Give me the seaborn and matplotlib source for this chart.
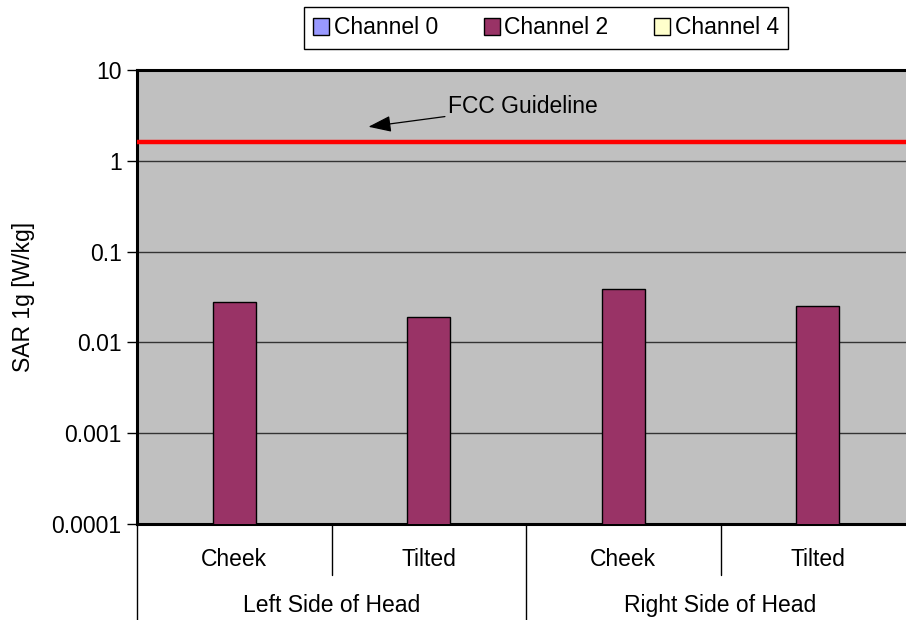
import numpy as np
import pandas as pd
import matplotlib
matplotlib.use("Agg")
import matplotlib.pyplot as plt
import matplotlib.patches as mpatches
import matplotlib.transforms as mtransforms
import seaborn as sns

# ---- data ----
positions = ["Cheek", "Tilted", "Cheek", "Tilted"]
sides = ["Left Side of Head", "Right Side of Head"]
slots = ["L-Cheek", "L-Tilted", "R-Cheek", "R-Tilted"]
channels = ["Channel 0", "Channel 2", "Channel 4"]
sar_ch0 = [np.nan, np.nan, np.nan, np.nan]
sar_ch2 = [0.028, 0.019, 0.039, 0.025]
sar_ch4 = [np.nan, np.nan, np.nan, np.nan]
fcc_limit = 1.6
yticks = [0.0001, 0.001, 0.01, 0.1, 1, 10]
ytick_labels = ["0.0001", "0.001", "0.01", "0.1", "1", "10"]
colors = {"Channel 0": "#9999FF", "Channel 2": "#993366", "Channel 4": "#FFFFCC"}

rows = []
for ch, vals in zip(channels, [sar_ch0, sar_ch2, sar_ch4]):
    for s, v in zip(slots, vals):
        rows.append({"slot": s, "channel": ch, "sar": v})
df = pd.DataFrame(rows)

sns.set_style("white")
plt.rcParams["font.family"] = ["Liberation Sans", "DejaVu Sans"]
for k in ["text.color", "axes.labelcolor", "xtick.color", "ytick.color"]:
    plt.rcParams[k] = "black"
FS = 16.5

fig = plt.figure(figsize=(9.06, 6.2), dpi=100)
ax = fig.add_axes([137 / 906, 96 / 620, (915 - 137) / 906, (524 - 70) / 620])
ax.set_facecolor("#C0C0C0")
ax.set_yscale("log")

sns.barplot(data=df, x="slot", y="sar", hue="channel", order=slots,
            hue_order=channels, palette=colors, width=0.66, saturation=1,
            edgecolor="black", linewidth=1.0, ax=ax, legend=False,
            errorbar=None, zorder=3)

ax.set_ylim(1e-4, 10)
ax.set_xlim(-0.5, 3.5)
ax.set_yticks(yticks)
ax.set_yticklabels(ytick_labels, fontsize=FS)
ax.yaxis.set_minor_locator(matplotlib.ticker.NullLocator())
ax.tick_params(axis="y", direction="out", length=7, width=1, color="black", pad=4, left=True)
ax.grid(axis="y", which="major", color="#333333", linewidth=1.0, zorder=1)
ax.set_axisbelow(True)
ax.set_xlabel("")
ax.set_ylabel("SAR 1g [W/kg]", fontsize=FS, labelpad=12)

ax.set_xticks(range(4))
ax.set_xticklabels(positions, fontsize=FS)
ax.tick_params(axis="x", length=0, pad=17)

for side in ["left", "top", "bottom"]:
    ax.spines[side].set_visible(True)
    ax.spines[side].set_color("black")
    ax.spines[side].set_linewidth(2.2)
ax.spines["right"].set_visible(False)

# FCC guideline
ax.axhline(fcc_limit, color="#FF0000", linewidth=3.2, zorder=4)
ax.annotate("FCC Guideline", xy=(0.69, 2.37), xytext=(1.10, 4.0),
            fontsize=FS, va="center", ha="left",
            arrowprops=dict(arrowstyle="-|>,head_length=0.7,head_width=0.25",
                            color="black", lw=0.9,
                            mutation_scale=20, shrinkA=0, shrinkB=0))

# two-level category axis
trans = mtransforms.blended_transform_factory(ax.transData, ax.transAxes)
for x in [0.5, 2.5]:
    ax.plot([x, x], [0, -0.112], transform=trans, color="black", lw=1.0, clip_on=False)
for x in [-0.5, 1.5, 3.5]:
    ax.plot([x, x], [0, -0.215], transform=trans, color="black", lw=1.0, clip_on=False)
for i, s in enumerate(sides):
    ax.text(2 * i + 0.5, -0.18, s, transform=trans, ha="center", va="center", fontsize=FS)

# legend
handles = [mpatches.Patch(facecolor=colors[c], edgecolor="black", linewidth=1.0, label=c)
           for c in channels]
leg = fig.legend(handles=handles, ncol=3, loc="center", bbox_to_anchor=(546 / 906, 1 - 28 / 620),
                 frameon=True, fancybox=False, edgecolor="black", framealpha=1,
                 fontsize=FS, handlelength=0.7, handleheight=0.7, handletextpad=0.2,
                 columnspacing=2.0, borderpad=0.4, borderaxespad=0)
leg.get_frame().set_linewidth(1.0)

fig.savefig("out.png", dpi=100)
